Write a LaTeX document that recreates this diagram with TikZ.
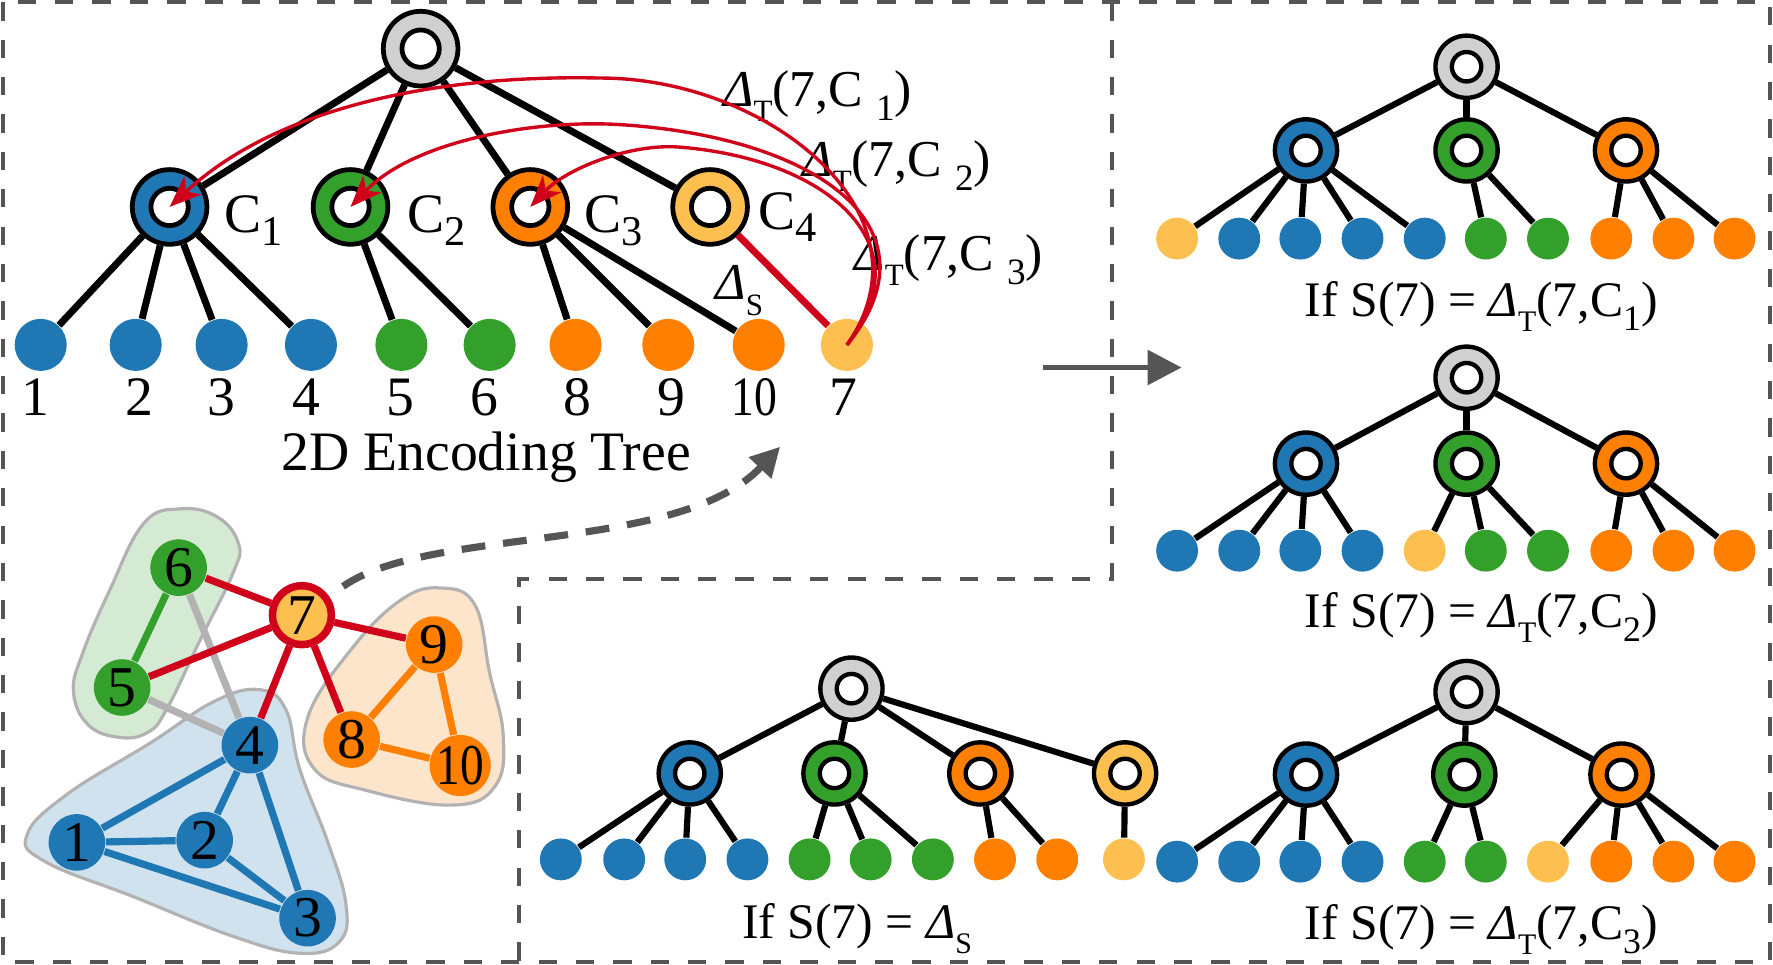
\documentclass[tikz,border=0pt]{standalone}
\usepackage{fontspec}
\setmainfont{Liberation Serif}
\usepackage{graphicx}
\usetikzlibrary{arrows.meta}
\definecolor{cblue}{HTML}{1F77B4}
\definecolor{cgreen}{HTML}{33A02C}
\definecolor{corange}{HTML}{FF7F00}
\definecolor{clo}{HTML}{FDBF4F}
\definecolor{cgray}{HTML}{D0D0D0}
\definecolor{cred}{HTML}{D0021B}
\definecolor{cdark}{HTML}{555555}
\definecolor{bgreen}{HTML}{D5EAD3}
\definecolor{bblue}{HTML}{D1E2EF}
\definecolor{borange}{HTML}{FDE5CC}
\newcommand{\Dl}{{\itshape Δ}}
\newcommand{\ssub}[1]{\raisebox{-0.3em}{\scalebox{0.6}{#1}}}
\newcommand{\dsub}[1]{\raisebox{-0.28em}{\scalebox{0.72}{#1}}}
\newcommand{\csub}[1]{\raisebox{-0.22em}{\scalebox{0.76}{#1}}}
\begin{document}
\begin{tikzpicture}[x=0.01cm,y=-0.01cm,
 ring/.style={circle,draw=black,line width=1.2pt,fill=#1,minimum size=0.66cm,inner sep=0pt,
   path picture={\draw[line width=1.2pt,fill=white] (path picture bounding box.center) circle (0.165cm);}},
 sring/.style={circle,draw=black,line width=1.1pt,fill=#1,minimum size=0.55cm,inner sep=0pt,
   path picture={\draw[line width=1.1pt,fill=white] (path picture bounding box.center) circle (0.13cm);}},
 leaf/.style={circle,fill=#1,minimum size=0.46cm,inner sep=0pt},
 sleaf/.style={circle,fill=#1,minimum size=0.37cm,inner sep=0pt},
 tedge/.style={line width=1.75pt},
 sedge/.style={line width=1.55pt},
 gnode/.style={circle,fill=#1,minimum size=0.5cm,inner sep=0pt,font=\fontsize{14.5}{14.5}\selectfont},
 gedge/.style={line width=1.8pt,draw=#1},
 blob/.style={fill=#1,draw=black!30,line width=0.8pt},
 dframe/.style={draw=cdark,line width=1pt,dash pattern=on 4.6pt off 4.8pt},
 txt/.style={font=\fontsize{14}{16}\selectfont,inner sep=0pt},
 dlbl/.style={font=\fontsize{13}{15}\selectfont,inner sep=0pt},
 lbl/.style={font=\fontsize{12.5}{14}\selectfont,inner sep=0pt},
 redarc/.style={draw=cred,line width=0.85pt,-{Stealth[length=0.28cm,width=0.22cm,inset=0.08cm]}},
]
\useasboundingbox (0,0) rectangle (1568,853);

% frames
\draw[dframe] (3,2) rectangle (1565,851);
\draw[dframe] (983,2) -- (983,512) -- (459,512) -- (459,851);

% blobs
\draw[blob=bgreen] plot[smooth cycle,tension=0.7] coordinates {(127,463) (159,450) (192,457) (211,481) (206,507) (177,566) (147,628) (130,648) (105,652) (78,641) (65,612) (73,578) (97,522)};
\draw[blob=bblue] plot[smooth cycle,tension=0.7] coordinates {(24,738) (60,702) (133,657) (190,620) (230,610) (253,628) (265,680) (290,745) (306,800) (300,833) (265,843) (206,828) (118,793) (40,762)};
\draw[blob=borange] plot[smooth cycle,tension=0.7] coordinates {(272,635) (310,575) (354,531) (390,520) (420,535) (433,595) (445,650) (438,695) (400,712) (324,699) (278,680)};

% graph nodes
\node[gnode=cgreen] (g6) at (158,502) {6};
\node[gnode=cgreen] (g5) at (108,608) {5};
\node[gnode=cblue] (g4) at (221,659) {4};
\node[gnode=cblue] (g1) at (68,745) {1};
\node[gnode=cblue] (g2) at (181,743) {2};
\node[gnode=cblue] (g3) at (272,812) {3};
\node[gnode=corange] (g9) at (384,570) {9};
\node[gnode=corange] (g8) at (311,654) {8};
\node[gnode=corange] (g10) at (407,677) {\scalebox{0.82}[1]{10}};
\node[gnode=clo,draw=cred,line width=1.9pt,minimum size=0.52cm] (g7) at (267,544) {7};

% graph edges
\draw[gedge=black!30] (g6) -- (g4);
\draw[gedge=black!30] (g5) -- (g4);
\draw[gedge=cgreen] (g6) -- (g5);
\foreach \a/\b in {g4/g1,g4/g2,g4/g3,g1/g2,g1/g3,g2/g3} \draw[gedge=cblue] (\a) -- (\b);
\foreach \a/\b in {g9/g8,g9/g10,g8/g10} \draw[gedge=corange] (\a) -- (\b);
\foreach \b in {g6,g5,g4,g9,g8} \draw[gedge=cred] (g7) -- (\b);

% top-left tree
\node[ring=cgray] (R) at (372,43) {};
\node[ring=cblue] (C1) at (150,183) {};
\node[ring=cgreen] (C2) at (310,183) {};
\node[ring=corange] (C3) at (469,183) {};
\node[ring=clo] (C4) at (628,183) {};
\foreach \c in {C1,C2,C3,C4} \draw[tedge] (R) -- (\c);
\foreach \n/\x/\c/\p in {1/36/cblue/C1,2/120/cblue/C1,3/196/cblue/C1,4/275/cblue/C1,5/355/cgreen/C2,6/433/cgreen/C2,8/509/corange/C3,9/591/corange/C3,10/671/corange/C3}
 {\node[leaf=\c] (l\n) at (\x,305) {}; \draw[tedge] (\p) -- (l\n);}
\node[leaf=clo] (l7) at (749,305) {};
\draw[tedge,cred] (C4) -- (l7);
\foreach \n/\x in {1/31,2/123,3/196,4/271,5/354,6/428,8/511,9/594,7/746}
 \node[txt,anchor=base] (d\n) at (\x,367) {\n};
\node[txt,anchor=base] (d10) at (667,367) {\scalebox{0.82}[1]{10}};
\node[txt,anchor=base] (title) at (430,416) {2D Encoding Tree};
\node[txt,anchor=base west] (k1) at (198,206) {C\csub{1}};
\node[txt,anchor=base west] (k2) at (360,206) {C\csub{2}};
\node[txt,anchor=base west] (k3) at (516,206) {C\csub{3}};
\node[txt,anchor=base west] (k4) at (670,203) {C\csub{4}};
\node[dlbl,anchor=base west] (e1) at (639,94) {\Dl\ssub{T}(7,C \dsub{1})};
\node[dlbl,anchor=base west] (e2) at (709,156) {\Dl\ssub{T}(7,C \dsub{2})};
\node[dlbl,anchor=base west] (e3) at (755,239) {\Dl\ssub{T}(7,C \dsub{3})};
\node[dlbl,anchor=base west] (es) at (632,265) {\Dl\ssub{S}};

% red arcs
\draw[redarc] (l7.center) .. controls (830,190) and (680,69) .. (531,69) .. controls (400,66) and (250,90) .. (C1.center);
\draw[redarc] (l7.center) .. controls (835,200) and (720,120) .. (545,110) .. controls (470,106) and (365,125) .. (C2.center);
\draw[redarc] (l7.center) .. controls (820,215) and (730,140) .. (600,130) .. controls (555,127) and (500,150) .. (C3.center);

% arrows
\coordinate (ga) at (922,325);
\coordinate (gb) at (1045,325);
\draw[line width=1.5pt,cdark,-{Triangle[length=0.3cm,width=0.3cm]}] (ga) -- (gb);
\coordinate (da) at (690,395);
\draw[line width=1.8pt,cdark,dash pattern=on 6pt off 4.5pt,shorten <=0.15cm,-{Triangle[length=0.26cm,width=0.26cm]}] (g7) .. controls (380,465) and (600,490) .. (da);

% Tree A
\node[sring=cgray] (aR) at (1297,59) {};
\node[sring=cblue] (aB) at (1155,133) {};
\node[sring=cgreen] (aG) at (1297,133) {};
\node[sring=corange] (aO) at (1438,133) {};
\foreach \c in {aB,aG,aO} \draw[sedge] (aR) -- (\c);
\foreach \x/\c/\p [count=\i] in {1041/clo/aB,1096/cblue/aB,1150/cblue/aB,1205/cblue/aB,1260/cblue/aB,1314/cgreen/aG,1369/cgreen/aG,1425/corange/aO,1480/corange/aO,1534/corange/aO}
 {\node[sleaf=\c] (a\i) at (\x,211) {}; \draw[sedge] (\p) -- (a\i);}
\node[lbl,anchor=base] (la) at (1310,280) {If S(7) = \Dl\ssub{T}(7,C\dsub{1})};

% Tree B
\node[sring=cgray] (bR) at (1297,334) {};
\node[sring=cblue] (bB) at (1155,410) {};
\node[sring=cgreen] (bG) at (1297,410) {};
\node[sring=corange] (bO) at (1438,410) {};
\foreach \c in {bB,bG,bO} \draw[sedge] (bR) -- (\c);
\foreach \x/\c/\p [count=\i] in {1041/cblue/bB,1096/cblue/bB,1150/cblue/bB,1205/cblue/bB,1260/clo/bG,1314/cgreen/bG,1369/cgreen/bG,1425/corange/bO,1480/corange/bO,1534/corange/bO}
 {\node[sleaf=\c] (b\i) at (\x,487) {}; \draw[sedge] (\p) -- (b\i);}
\node[lbl,anchor=base] (lb) at (1310,555) {If S(7) = \Dl\ssub{T}(7,C\dsub{2})};

% Tree C
\node[sring=cgray] (cR) at (753,609) {};
\node[sring=cblue] (cB) at (610,684) {};
\node[sring=cgreen] (cG) at (738,684) {};
\node[sring=corange] (cO) at (867,684) {};
\node[sring=clo] (cL) at (995,684) {};
\foreach \c in {cB,cG,cO,cL} \draw[sedge] (cR) -- (\c);
\foreach \x/\c/\p [count=\i] in {496/cblue/cB,552/cblue/cB,606/cblue/cB,661/cblue/cB,716/cgreen/cG,770/cgreen/cG,825/cgreen/cG,880/corange/cO,935/corange/cO,994/clo/cL}
 {\node[sleaf=\c] (c\i) at (\x,760) {}; \draw[sedge] (\p) -- (c\i);}
\node[lbl,anchor=base] (lc) at (758,830) {If S(7) = \Dl\ssub{S}};

% Tree D
\node[sring=cgray] (dR) at (1297,612) {};
\node[sring=cblue] (dB) at (1155,685) {};
\node[sring=cgreen] (dG) at (1295,685) {};
\node[sring=corange] (dO) at (1434,685) {};
\foreach \c in {dB,dG,dO} \draw[sedge] (dR) -- (\c);
\foreach \x/\c/\p [count=\i] in {1041/cblue/dB,1096/cblue/dB,1150/cblue/dB,1205/cblue/dB,1260/cgreen/dG,1314/cgreen/dG,1369/clo/dO,1425/corange/dO,1480/corange/dO,1534/corange/dO}
 {\node[sleaf=\c] (dd\i) at (\x,762) {}; \draw[sedge] (\p) -- (dd\i);}
\node[lbl,anchor=base] (ld) at (1310,831) {If S(7) = \Dl\ssub{T}(7,C\dsub{3})};
\end{tikzpicture}
\end{document}
